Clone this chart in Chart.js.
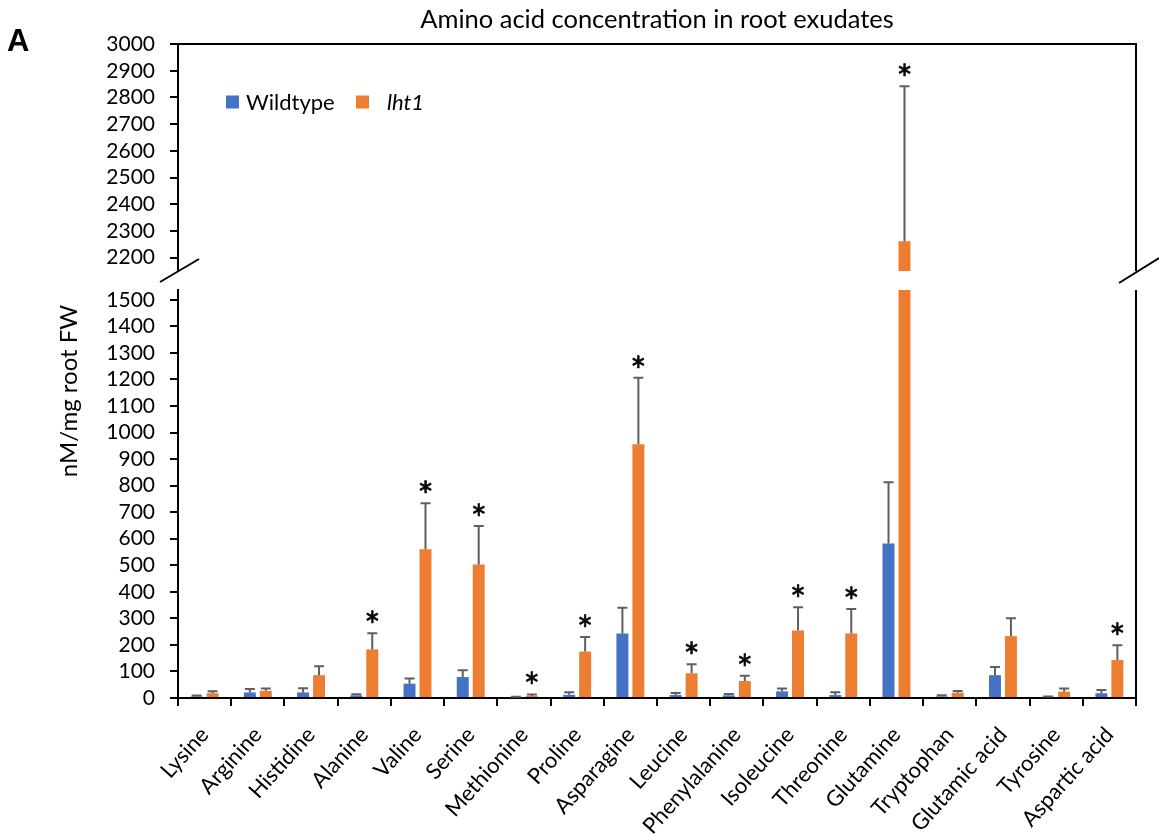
<!DOCTYPE html>
<html>
<head>
<meta charset="utf-8">
<title>Amino acid concentration in root exudates</title>
<script src="https://cdn.jsdelivr.net/npm/chart.js@4.4.1/dist/chart.umd.min.js"></script>
<style>
  html, body { margin: 0; padding: 0; background: #fff; }
  #wrap { position: relative; width: 1159px; height: 834px; overflow: hidden; background: #fff; }
  #lower { position: absolute; left: 0; top: 275px; }
  #upper { position: absolute; left: 0; top: 0; }
  #panel { position: absolute; left: 7px; top: 25px; font: bold 31px "Liberation Sans", Arial, sans-serif; color: #000; line-height: 1; }
</style>
</head>
<body>
<div id="wrap">
  <canvas id="lower" width="1159" height="559"></canvas>
  <canvas id="upper" width="1159" height="290"></canvas>
  <div id="panel">A</div>
</div>
<script>
// Amino acids measured in the root exudates
const categories = ['Lysine', 'Arginine', 'Histidine', 'Alanine', 'Valine', 'Serine', 'Methionine',
  'Proline', 'Asparagine', 'Leucine', 'Phenylalanine', 'Isoleucine', 'Threonine', 'Glutamine',
  'Tryptophan', 'Glutamic acid', 'Tyrosine', 'Aspartic acid'];

// nM/mg root FW, mean and standard deviation
const wildtype   = [6, 21, 21, 10, 54, 79, 3, 12, 243, 11, 10, 25, 11, 582, 6, 86, 4, 18];
const wildtypeSD = [3, 13, 16, 4, 19, 26, 2, 10, 97, 8, 5, 11, 11, 231, 4, 31, 2, 12];
const lht1       = [18, 27, 86, 183, 560, 503, 8, 175, 956, 93, 64, 254, 243, 2261, 20, 233, 24, 143];
const lht1SD     = [7, 9, 34, 61, 174, 145, 5, 55, 250, 34, 20, 88, 92, 581, 6, 67, 12, 56];
// significant difference from wildtype (marked with *)
const lht1Significant = [false, false, false, true, true, true, true, true, true, true, true, true, true, true, false, false, false, true];

// broken value axis: upper and lower segments
const upperTicks = [2200, 2300, 2400, 2500, 2600, 2700, 2800, 2900, 3000];
const lowerTicks = [0, 100, 200, 300, 400, 500, 600, 700, 800, 900, 1000, 1100, 1200, 1300, 1400, 1500];
const upperRange = [2150, 3000];
const lowerRange = [0, 1537];

const FONT = 'Lato, "Open Sans", "DejaVu Sans", sans-serif';
const BLUE = '#4472C4';
const ORANGE = '#ED7D31';
const STAR_SIZE = 38;
Chart.defaults.font.family = FONT;
Chart.defaults.color = '#000';

function makeData() {
  return {
    labels: categories,
    datasets: [
      { label: 'Wildtype', data: wildtype, errors: wildtypeSD, backgroundColor: BLUE,
        categoryPercentage: 0.6, barPercentage: 0.75 },
      { label: 'lht1', data: lht1, errors: lht1SD, significant: lht1Significant, backgroundColor: ORANGE,
        categoryPercentage: 0.6, barPercentage: 0.75 }
    ]
  };
}

// positive error bars and significance stars
const errorBars = {
  id: 'errorBars',
  afterDatasetsDraw(chart) {
    const { ctx, chartArea: a } = chart;
    const y = chart.scales.y;
    chart.data.datasets.forEach((ds, i) => {
      const meta = chart.getDatasetMeta(i);
      meta.data.forEach((bar, j) => {
        const v = ds.data[j];
        const top = v + ds.errors[j];
        const yv = y.getPixelForValue(v);
        const yt = y.getPixelForValue(top);
        ctx.save();
        ctx.beginPath();
        ctx.rect(a.left, a.top - 1, a.width, a.height + 1);
        ctx.clip();
        ctx.strokeStyle = '#5f5f5f';
        ctx.lineWidth = 2;
        ctx.beginPath();
        ctx.moveTo(bar.x, yv);
        ctx.lineTo(bar.x, yt);
        ctx.moveTo(bar.x - 5, yt);
        ctx.lineTo(bar.x + 5, yt);
        ctx.stroke();
        ctx.restore();
        if (ds.significant && ds.significant[j] && top >= y.min && top <= y.max) {
          ctx.save();
          ctx.fillStyle = '#000';
          ctx.strokeStyle = '#000';
          ctx.lineWidth = 0.6;
          ctx.font = STAR_SIZE + 'px ' + FONT;
          ctx.textAlign = 'center';
          ctx.textBaseline = 'alphabetic';
          const by = yt - 17 + 0.63 * STAR_SIZE;
          ctx.fillText('*', bar.x, by);
          ctx.strokeText('*', bar.x, by);
          ctx.restore();
        }
      });
    });
  }
};

// frame lines and axis-break marks
const frame = {
  id: 'frame',
  afterDraw(chart, args, opts) {
    const { ctx, chartArea: a } = chart;
    ctx.save();
    ctx.strokeStyle = '#000';
    ctx.lineWidth = 2;
    ctx.beginPath();
    if (opts.part === 'upper') {
      ctx.moveTo(a.left - 8, a.top);
      ctx.lineTo(a.right, a.top);
      ctx.lineTo(a.right, a.bottom);
      // break marks across the gap between the two segments
      ctx.moveTo(a.left - 18, a.bottom + 11);
      ctx.lineTo(a.left + 21, a.bottom - 12);
      ctx.moveTo(a.right - 17, a.bottom + 12);
      ctx.lineTo(a.right + 23, a.bottom - 13);
    } else {
      ctx.moveTo(a.right, a.top);
      ctx.lineTo(a.right, a.bottom);
    }
    ctx.stroke();
    ctx.restore();
  }
};

// legend for the upper panel (lht1 in italics)
const panelLegend = {
  id: 'panelLegend',
  afterDraw(chart) {
    const { ctx, chartArea: a } = chart;
    const items = chart.data.datasets;
    const starts = [a.left + 48, a.left + 178];
    const gaps = [7, 18];
    const yc = 102;
    ctx.save();
    items.forEach((ds, i) => {
      const x = starts[i];
      ctx.fillStyle = ds.backgroundColor;
      ctx.fillRect(x, yc - 6.5, 13, 13);
      ctx.fillStyle = '#000';
      ctx.font = (i === 1 ? 'italic ' : '') + '22px ' + FONT;
      ctx.textAlign = 'left';
      ctx.textBaseline = 'middle';
      ctx.fillText(ds.label, x + 13 + gaps[i], yc + 1);
    });
    ctx.restore();
  }
};

// shared value-axis title
const valueTitle = {
  id: 'valueTitle',
  afterDraw(chart) {
    const { ctx } = chart;
    ctx.save();
    ctx.translate(69, 391 - 275);
    ctx.rotate(-Math.PI / 2);
    ctx.fillStyle = '#000';
    ctx.font = '24px ' + FONT;
    ctx.textAlign = 'center';
    ctx.textBaseline = 'middle';
    ctx.fillText('nM/mg root FW', 0, 0);
    ctx.restore();
  }
};

function yScale(range, ticks) {
  return {
    min: range[0],
    max: range[1],
    afterFit(s) { s.width = 178; s.paddingTop = 0; s.paddingBottom = 0; },
    afterBuildTicks(s) { s.ticks = ticks.map(v => ({ value: v })); },
    border: { display: true, color: '#000', width: 2 },
    grid: { drawOnChartArea: false, drawTicks: true, tickLength: 8, color: '#000', lineWidth: 2 },
    ticks: { font: { size: 21 }, padding: 15, color: '#000', autoSkip: false, callback: v => String(v) }
  };
}

// upper segment: 2150 - 3000
new Chart(document.getElementById('upper'), {
  type: 'bar',
  data: makeData(),
  options: {
    responsive: false,
    animation: false,
    layout: { padding: { left: 0, right: 23, top: 0, bottom: 19 } },
    plugins: {
      legend: { display: false },
      tooltip: { enabled: false },
      title: {
        display: true,
        text: 'Amino acid concentration in root exudates',
        fullSize: false,
        font: { size: 25.5, weight: 'normal', lineHeight: 1.2 },
        color: '#000',
        padding: { top: 4, bottom: 9.5 }
      },
      frame: { part: 'upper' }
    },
    scales: {
      x: { display: false },
      y: yScale(upperRange, upperTicks)
    }
  },
  plugins: [errorBars, frame, panelLegend]
});

// lower segment: 0 - 1537
new Chart(document.getElementById('lower'), {
  type: 'bar',
  data: makeData(),
  options: {
    responsive: false,
    animation: false,
    layout: { padding: { left: 0, right: 23, top: 15, bottom: 0 } },
    plugins: {
      legend: { display: false },
      tooltip: { enabled: false },
      frame: { part: 'lower' }
    },
    scales: {
      x: {
        afterFit(s) { s.height = 136; s.paddingLeft = 0; s.paddingRight = 0; },
        border: { display: true, color: '#000', width: 2 },
        grid: { drawOnChartArea: false, drawTicks: true, tickLength: 8, color: '#000', lineWidth: 2, offset: true },
        ticks: { font: { size: 22 }, color: '#000', minRotation: 48, maxRotation: 48, autoSkip: false, padding: 16 }
      },
      y: yScale(lowerRange, lowerTicks)
    }
  },
  plugins: [errorBars, frame, valueTitle]
});
</script>
</body>
</html>
